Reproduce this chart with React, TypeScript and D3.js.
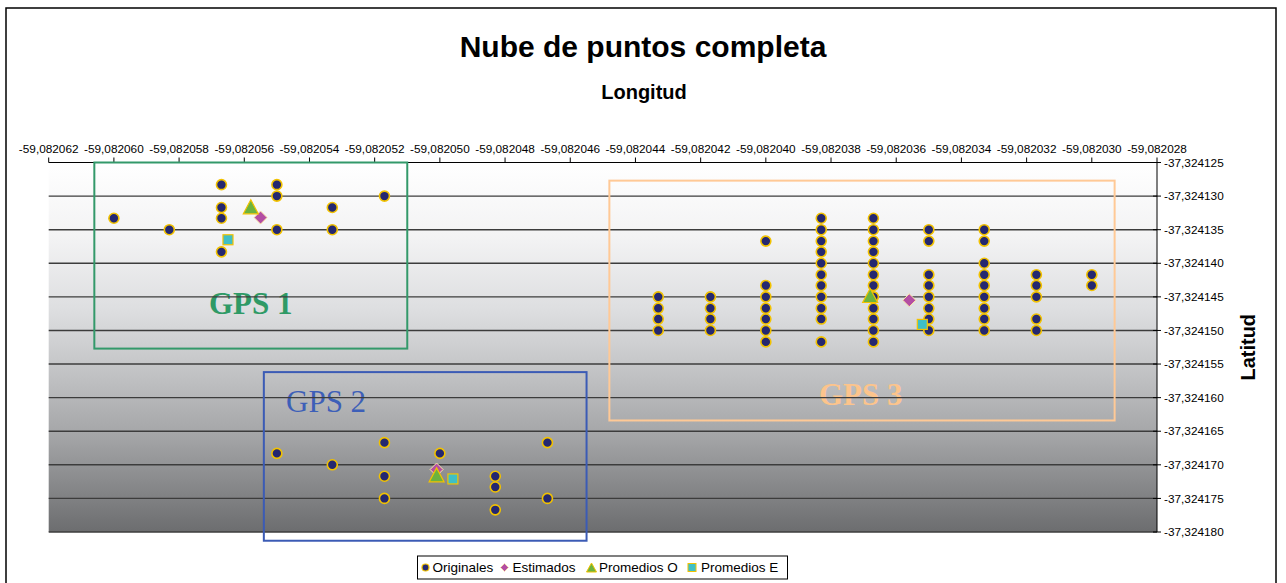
import React from 'react';
import * as d3 from 'd3';

const xTicks = [
  -59.082062, -59.08206, -59.082058, -59.082056, -59.082054, -59.082052,
  -59.08205, -59.082048, -59.082046, -59.082044, -59.082042, -59.08204,
  -59.082038, -59.082036, -59.082034, -59.082032, -59.08203, -59.082028,
];
const yTicks = [
  -37.324125, -37.32413, -37.324135, -37.32414, -37.324145, -37.32415,
  -37.324155, -37.32416, -37.324165, -37.32417, -37.324175, -37.32418,
];

// [longitud, latitud]
const originales: [number, number][] = [
  // GPS 1
  [-59.08206, -37.3241333], [-59.0820583, -37.324135],
  [-59.0820567, -37.3241283], [-59.0820567, -37.3241317], [-59.0820567, -37.3241333], [-59.0820567, -37.3241383],
  [-59.082055, -37.3241283], [-59.082055, -37.32413], [-59.082055, -37.324135],
  [-59.0820533, -37.3241317], [-59.0820533, -37.324135],
  [-59.0820517, -37.32413],
  // GPS 2
  [-59.082055, -37.3241683], [-59.0820533, -37.32417],
  [-59.0820517, -37.3241667], [-59.0820517, -37.3241717], [-59.0820517, -37.324175],
  [-59.08205, -37.3241683],
  [-59.0820483, -37.3241717], [-59.0820483, -37.3241733], [-59.0820483, -37.3241767],
  [-59.0820467, -37.3241667], [-59.0820467, -37.324175],
  // GPS 3
  [-59.0820433, -37.324145], [-59.0820433, -37.3241467], [-59.0820433, -37.3241483], [-59.0820433, -37.32415],
  [-59.0820417, -37.324145], [-59.0820417, -37.3241467], [-59.0820417, -37.3241483], [-59.0820417, -37.32415],
  [-59.08204, -37.3241367], [-59.08204, -37.3241433], [-59.08204, -37.324145], [-59.08204, -37.3241467],
  [-59.08204, -37.3241483], [-59.08204, -37.32415], [-59.08204, -37.3241517],
  [-59.0820383, -37.3241333], [-59.0820383, -37.324135], [-59.0820383, -37.3241367], [-59.0820383, -37.3241383],
  [-59.0820383, -37.32414], [-59.0820383, -37.3241417], [-59.0820383, -37.3241433], [-59.0820383, -37.324145],
  [-59.0820383, -37.3241467], [-59.0820383, -37.3241483], [-59.0820383, -37.3241517],
  [-59.0820367, -37.3241333], [-59.0820367, -37.324135], [-59.0820367, -37.3241367], [-59.0820367, -37.3241383],
  [-59.0820367, -37.32414], [-59.0820367, -37.3241417], [-59.0820367, -37.3241433], [-59.0820367, -37.324145],
  [-59.0820367, -37.3241467], [-59.0820367, -37.3241483], [-59.0820367, -37.32415], [-59.0820367, -37.3241517],
  [-59.082035, -37.324135], [-59.082035, -37.3241367], [-59.082035, -37.3241417], [-59.082035, -37.3241433],
  [-59.082035, -37.324145], [-59.082035, -37.3241467], [-59.082035, -37.3241483], [-59.082035, -37.32415],
  [-59.0820333, -37.324135], [-59.0820333, -37.3241367], [-59.0820333, -37.32414], [-59.0820333, -37.3241417],
  [-59.0820333, -37.3241433], [-59.0820333, -37.324145], [-59.0820333, -37.3241467], [-59.0820333, -37.3241483],
  [-59.0820333, -37.32415],
  [-59.0820317, -37.3241417], [-59.0820317, -37.3241433], [-59.0820317, -37.324145],
  [-59.0820317, -37.3241483], [-59.0820317, -37.32415],
  [-59.08203, -37.3241417], [-59.08203, -37.3241433],
];
const estimados: [number, number][] = [
  [-59.0820555, -37.3241332], [-59.0820501, -37.3241707], [-59.0820356, -37.3241455],
];
const promediosO: [number, number][] = [
  [-59.0820558, -37.3241316], [-59.0820501, -37.3241715], [-59.0820368, -37.3241448],
];
const promediosE: [number, number][] = [
  [-59.0820565, -37.3241365], [-59.0820496, -37.3241721], [-59.0820352, -37.3241491],
];

// annotation boxes: [lonLeft, lonRight, latTop, latBottom]
const gpsNames = ['GPS 1', 'GPS 2', 'GPS 3'];
const gpsBoxes: [number, number, number, number][] = [
  [-59.0820606, -59.082051, -37.324125, -37.3241527],
  [-59.0820554, -59.0820455, -37.3241562, -37.3241813],
  [-59.0820448, -59.0820293, -37.3241277, -37.3241634],
];

const W = 1286;
const H = 583;
const plot = { left: 48.7, right: 1157, top: 162.5, bottom: 532 };

const x = d3.scaleLinear().domain([-59.082062, -59.082028]).range([plot.left, plot.right]);
const y = d3.scaleLinear().domain([-37.324125, -37.32418]).range([plot.top, plot.bottom]);

const fmt = (v: number) => v.toFixed(6).replace('.', ',');

const C_NAVY = '#252870';
const C_GOLD = '#f2c200';
const C_DIAM = '#b44ea3';
const C_TRI = '#6cb33f';
const C_SQ = '#3fbfc6';

const gpsStyles = [
  { color: '#33996a', text: '#2f9a66', weight: 'bold', tx: 209, ty: 314 },
  { color: '#3b5bb5', text: '#3d5fb8', weight: 'normal', tx: 286, ty: 411.5 },
  { color: '#ffc996', text: '#fcc48c', weight: 'bold', tx: 819, ty: 405 },
];

const diamondPath = (cx: number, cy: number, r: number) =>
  `M${cx},${cy - r}L${cx + r},${cy}L${cx},${cy + r}L${cx - r},${cy}Z`;
const triPath = (cx: number, cy: number, w: number, h: number) =>
  `M${cx},${cy - h / 2}L${cx + w / 2},${cy + h / 2}L${cx - w / 2},${cy + h / 2}Z`;

export default function App() {
  const font = 'Liberation Sans, Arial, sans-serif';
  const serif = 'Liberation Serif, Times New Roman, serif';
  const legendY = 567.5;
  return (
    <svg
      width={W}
      height={H}
      style={{ position: 'absolute', left: 0, top: 0, background: '#fff' }}
      fontFamily={font}
    >
      <defs>
        <linearGradient id="bg" x1="0" y1="0" x2="0" y2="1">
          <stop offset="0" stopColor="#ffffff" />
          <stop offset="0.2" stopColor="#f3f3f4" />
          <stop offset="0.4" stopColor="#dddee0" />
          <stop offset="0.55" stopColor="#c5c6c8" />
          <stop offset="0.75" stopColor="#a2a3a5" />
          <stop offset="1" stopColor="#6c6d6f" />
        </linearGradient>
      </defs>
      {/* outer frame */}
      <rect x={6} y={8} width={1270} height={H + 10} fill="#fff" stroke="#000" strokeWidth={1.5} />
      {/* titles */}
      <text x={643} y={57} textAnchor="middle" fontSize={30} fontWeight="bold">
        Nube de puntos completa
      </text>
      <text x={644} y={99} textAnchor="middle" fontSize={20} fontWeight="bold">
        Longitud
      </text>
      <text
        transform={`translate(1255,${(plot.top + plot.bottom) / 2}) rotate(-90)`}
        textAnchor="middle"
        fontSize={20}
        fontWeight="bold"
      >
        Latitud
      </text>
      {/* plot background */}
      <rect
        x={plot.left}
        y={plot.top}
        width={plot.right - plot.left}
        height={plot.bottom - plot.top}
        fill="url(#bg)"
      />
      {/* GPS labels (under grid lines) */}
      {gpsNames.map((n, i) => (
        <text
          key={n}
          x={gpsStyles[i].tx}
          y={gpsStyles[i].ty}
          fontFamily={serif}
          fontSize={31}
          fontWeight={gpsStyles[i].weight}
          fill={gpsStyles[i].text}
        >
          {n}
        </text>
      ))}
      {/* grid lines */}
      {yTicks.slice(1).map((t) => (
        <line key={t} x1={plot.left} x2={plot.right} y1={y(t)} y2={y(t)} stroke="#3c3c3c" strokeWidth={1.4} />
      ))}
      {/* top axis */}
      <line x1={plot.left} x2={plot.right} y1={plot.top} y2={plot.top} stroke="#000" strokeWidth={1} />
      {xTicks.map((t) => (
        <g key={t}>
          <line x1={x(t)} x2={x(t)} y1={plot.top} y2={plot.top - 5} stroke="#000" />
          <text x={x(t)} y={153} textAnchor="middle" fontSize={11.8} fill="#000">
            {fmt(t)}
          </text>
        </g>
      ))}
      {/* right axis */}
      <line x1={plot.right} x2={plot.right} y1={plot.top} y2={plot.bottom} stroke="#000" strokeWidth={1} />
      {yTicks.map((t) => (
        <g key={t}>
          <line x1={plot.right - 4} x2={plot.right + 4} y1={y(t)} y2={y(t)} stroke="#000" />
          <text x={plot.right + 7} y={y(t)} dy="0.35em" fontSize={11.8} fill="#000">
            {fmt(t)}
          </text>
        </g>
      ))}
      {/* GPS boxes */}
      {gpsBoxes.map((b, i) => (
        <rect
          key={i}
          x={x(b[0])}
          y={y(b[2])}
          width={x(b[1]) - x(b[0])}
          height={y(b[3]) - y(b[2])}
          fill="none"
          stroke={gpsStyles[i].color}
          strokeWidth={2}
        />
      ))}
      {/* series */}
      {originales.map((d, i) => (
        <circle key={'o' + i} cx={x(d[0])} cy={y(d[1])} r={5} fill={C_NAVY} stroke={C_GOLD} strokeWidth={1.6} />
      ))}
      {estimados.map((d, i) => (
        <path key={'e' + i} d={diamondPath(x(d[0]), y(d[1]), 6.5)} fill={C_DIAM} stroke="#fbe9a8" strokeWidth={1} />
      ))}
      {promediosO.map((d, i) => (
        <path key={'p' + i} d={triPath(x(d[0]), y(d[1]), 15, 14)} fill={C_TRI} stroke={C_GOLD} strokeWidth={1.2} />
      ))}
      {promediosE.map((d, i) => (
        <rect
          key={'s' + i}
          x={x(d[0]) - 5}
          y={y(d[1]) - 5}
          width={10}
          height={10}
          fill={C_SQ}
          stroke={C_GOLD}
          strokeWidth={1.2}
        />
      ))}
      {/* legend */}
      <rect x={417.5} y={556} width={370} height={23} fill="#fff" stroke="#000" strokeWidth={1} />
      <circle cx={425.5} cy={legendY} r={3.5} fill={C_NAVY} stroke={C_GOLD} strokeWidth={1.2} />
      <text x={432.5} y={legendY} dy="0.35em" fontSize={13.5}>Originales</text>
      <path d={diamondPath(504.5, legendY, 4)} fill={C_DIAM} stroke="#fbe9a8" strokeWidth={0.8} />
      <text x={512.5} y={legendY} dy="0.35em" fontSize={13.5}>Estimados</text>
      <path d={triPath(591.5, legendY, 10, 9)} fill={C_TRI} stroke={C_GOLD} strokeWidth={1} />
      <text x={599} y={legendY} dy="0.35em" fontSize={13.5}>Promedios O</text>
      <rect x={688} y={legendY - 4} width={8} height={8} fill={C_SQ} stroke={C_GOLD} strokeWidth={1} />
      <text x={701} y={legendY} dy="0.35em" fontSize={13.5}>Promedios E</text>
    </svg>
  );
}
